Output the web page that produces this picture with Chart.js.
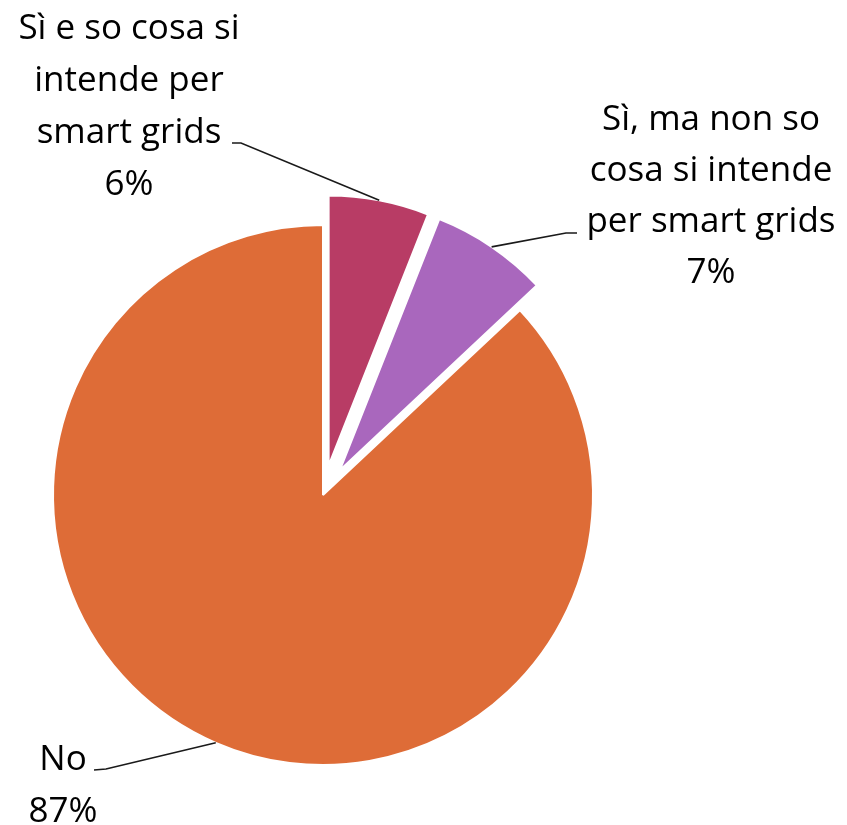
<!DOCTYPE html>
<html>
<head>
<meta charset="utf-8">
<script src="https://cdn.jsdelivr.net/npm/chart.js@4.4.0/dist/chart.umd.min.js"></script>
<style>
  html, body { margin: 0; padding: 0; background: #fff; }
  #wrap { position: relative; width: 847px; height: 825px; }
</style>
</head>
<body>
<div id="wrap"><canvas id="pieChart"></canvas></div>
<script>
// dati
const categories = [
    "Sì e so cosa si intende per smart grids",
    "Sì, ma non so cosa si intende per smart grids",
    "No"
];
const shares = [6, 7, 87];
const sliceColors = ["#B83C65", "#A967BD", "#DE6C37"];
const explodePx = [30, 30, 0];

// testo delle etichette (la percentuale viene aggiunta sotto)
const labelLines = [
    ["Sì e so cosa si", "intende per", "smart grids"],
    ["Sì, ma non so", "cosa si intende", "per smart grids"],
    ["No"]
];
const labelBoxes = [
    { cx: 129, base: 39,  gap: 52, elbow: [241, 143], tip: [232, 143] },
    { cx: 711, base: 130, gap: 51, elbow: [566, 233], tip: [577, 233] },
    { cx: 63,  base: 770, gap: 52, elbow: [106, 769], tip: [94, 770] }
];
const LABEL_FONT = "35px 'Open Sans'";

function shiftOf(arc, i) {
    const d = explodePx[i] || 0;
    const mid = (arc.startAngle + arc.endAngle) / 2;
    return { dx: Math.cos(mid) * d, dy: Math.sin(mid) * d };
}

// sposta le fette "esplose" lungo la bisettrice
const explodePlugin = {
    id: "explode",
    beforeDatasetDraw(chart, args) {
        args.meta.data.forEach((arc, i) => {
            const s = shiftOf(arc, i);
            arc._base = { x: arc.x, y: arc.y };
            arc.x += s.dx;
            arc.y += s.dy;
        });
    },
    afterDatasetDraw(chart, args) {
        args.meta.data.forEach(arc => {
            if (arc._base) { arc.x = arc._base.x; arc.y = arc._base.y; }
        });
    }
};

const labelPlugin = {
    id: "sliceLabels",
    afterDraw(chart) {
        const ctx = chart.ctx;
        const arcs = chart.getDatasetMeta(0).data;
        ctx.save();
        ctx.font = LABEL_FONT;
        ctx.fillStyle = "#000";
        ctx.textAlign = "center";
        ctx.textBaseline = "alphabetic";
        arcs.forEach((arc, i) => {
            const box = labelBoxes[i];
            const lines = labelLines[i].concat(shares[i] + "%");
            lines.forEach((t, k) => ctx.fillText(t, box.cx, box.base + k * box.gap));

            const s = shiftOf(arc, i);
            const mid = (arc.startAngle + arc.endAngle) / 2;
            const sx = arc.x + s.dx + Math.cos(mid) * arc.outerRadius;
            const sy = arc.y + s.dy + Math.sin(mid) * arc.outerRadius;
            ctx.beginPath();
            ctx.moveTo(sx, sy);
            ctx.lineTo(box.elbow[0], box.elbow[1]);
            ctx.lineTo(box.tip[0], box.tip[1]);
            ctx.strokeStyle = "#1a1a1a";
            ctx.lineWidth = 1.6;
            ctx.stroke();
        });
        ctx.restore();
    }
};

function drawChart() {
    const ctx = document.getElementById("pieChart").getContext("2d");
    new Chart(ctx, {
        type: "pie",
        data: {
            labels: categories,
            datasets: [{
                data: shares,
                backgroundColor: sliceColors,
                borderColor: "#ffffff",
                borderWidth: 2,
                radius: 270
            }]
        },
        options: {
            responsive: true,
            maintainAspectRatio: false,
            animation: false,
            layout: { padding: { left: 0, right: 201, top: 165, bottom: 0 } },
            plugins: {
                legend: { display: false },
                tooltip: { enabled: false }
            }
        },
        plugins: [explodePlugin, labelPlugin]
    });
}

document.fonts.load(LABEL_FONT).then(drawChart, drawChart);
</script>
</body>
</html>
